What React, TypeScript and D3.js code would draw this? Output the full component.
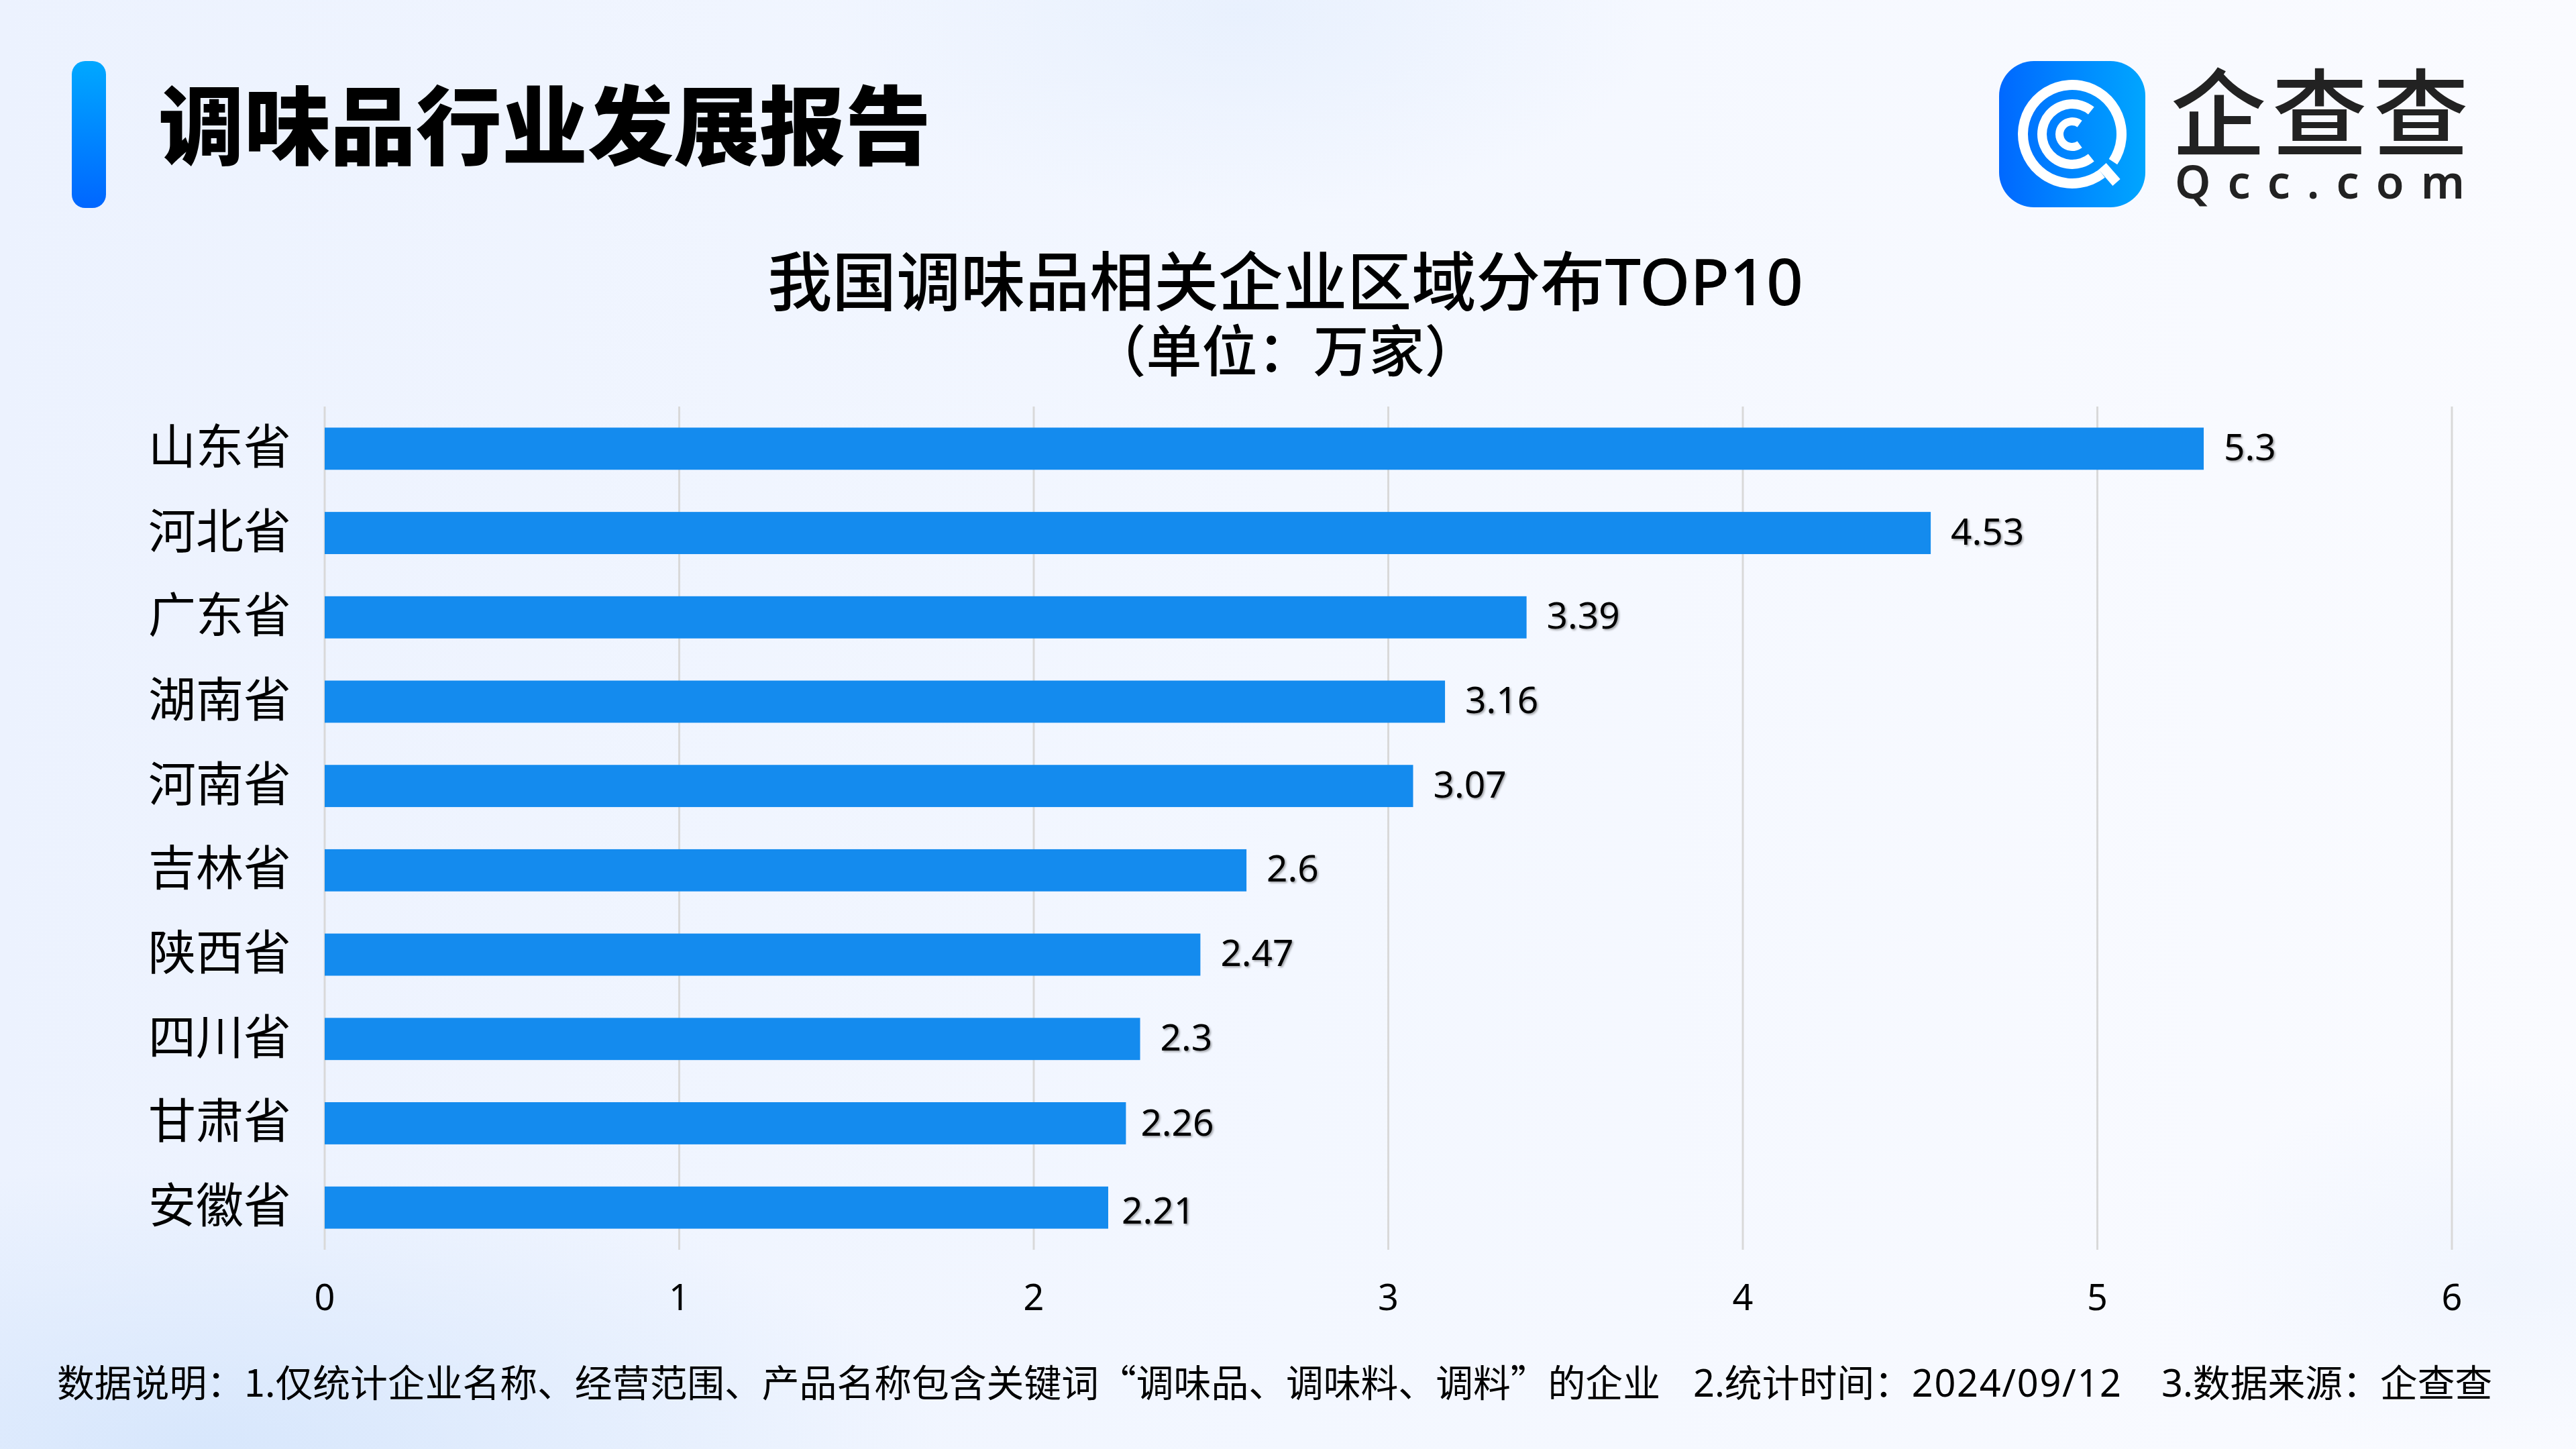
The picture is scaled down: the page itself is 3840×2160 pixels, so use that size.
import React from "react";
import * as d3 from "d3";

const W = 3840, H = 2160;
const categories = ["山东省","河北省","广东省","湖南省","河南省","吉林省","陕西省","四川省","甘肃省","安徽省"];
const values = [5.3,4.53,3.39,3.16,3.07,2.6,2.47,2.3,2.26,2.21];
const xTicks = [0,1,2,3,4,5,6];
const pageTitle = "调味品行业发展报告";
const chartTitle = "我国调味品相关企业区域分布TOP10";
const chartSub = "（单位：万家）";
const footNote = "数据说明：1.仅统计企业名称、经营范围、产品名称包含关键词“调味品、调味料、调料”的企业";
const footTimeLabel = "2.统计时间：";
const footTimeValue = "2024/09/12";
const footSource = "3.数据来源：企查查";
const logoCn = "企查查";
const logoEn = "Qcc.com";

// per-label layout nudges (separate from the data)
const labelDx = [0,0,0,0,0,0,0,0,-8,-10];
const labelDy = [-2,-2,-2,-2,-2,-2,-2,-2,0,5];

const FONT = '"Noto Sans","Noto Sans CJK SC",sans-serif';
const CJK = '"Noto Sans CJK SC",sans-serif';
const x = d3.scaleLinear().domain([0, 6]).range([484, 3655]);
const y = d3.scaleBand<string>().domain(categories).range([606, 1863]).paddingInner(0.5).paddingOuter(0.25);

const arc = d3.arc();
const deg = (d: number) => (d * Math.PI) / 180;
const rings = [
  { r: 73.5, w: 15, a0: 143, a1: 484 },
  { r: 45, w: 14, a0: 141, a1: 399 },
  { r: 19, w: 12, a0: 144, a1: 396 },
];

export default function App() {
  return (
    <svg width={W} height={H} viewBox={`0 0 ${W} ${H}`} style={{ position: "fixed", left: 0, top: 0 }} fontFamily={FONT}>
      <defs>
        <linearGradient id="bg" x1="0" y1="0" x2="1" y2="0">
          <stop offset="0" stopColor="#ecf2fe" />
          <stop offset="0.5" stopColor="#f3f7ff" />
          <stop offset="1" stopColor="#fafbff" />
        </linearGradient>
        <radialGradient id="blobBL" cx="0.5" cy="0.5" r="0.5">
          <stop offset="0" stopColor="#d6e6fc" stopOpacity="0.95" />
          <stop offset="1" stopColor="#d6e6fc" stopOpacity="0" />
        </radialGradient>
        <radialGradient id="blobT" cx="0.5" cy="0.5" r="0.5">
          <stop offset="0" stopColor="#e6effd" stopOpacity="0.8" />
          <stop offset="1" stopColor="#e6effd" stopOpacity="0" />
        </radialGradient>
        <linearGradient id="barAccent" x1="0" y1="0" x2="0" y2="1">
          <stop offset="0" stopColor="#00a8ff" />
          <stop offset="1" stopColor="#0066ff" />
        </linearGradient>
        <linearGradient id="logoBg" x1="0" y1="0" x2="1" y2="0">
          <stop offset="0" stopColor="#0068ff" />
          <stop offset="1" stopColor="#00a6ff" />
        </linearGradient>
        <filter id="soft" x="-20%" y="-20%" width="140%" height="140%">
          <feDropShadow dx="2" dy="2" stdDeviation="1.5" floodColor="#000" floodOpacity="0.35" />
        </filter>
      </defs>
      <rect width={W} height={H} fill="url(#bg)" />
      <ellipse cx={300} cy={2160} rx={1100} ry={420} fill="url(#blobBL)" />
      <ellipse cx={1850} cy={20} rx={620} ry={300} fill="url(#blobT)" />
      <ellipse cx={3750} cy={1900} rx={520} ry={300} fill="url(#blobT)" opacity={0.6} />

      <rect x={107} y={91} width={51} height={219} rx={20} fill="url(#barAccent)" />
      <text x={236} y={236} fontSize={128} fontWeight={900} fill="#000" fontFamily={CJK}>{pageTitle}</text>

      <rect x={2980} y={91} width={218} height={218} rx={52} fill="url(#logoBg)" />
      <g transform="translate(3089,200)">
        {rings.map((r, i) => (
          <path key={i} fill="#fff" d={arc({ innerRadius: r.r - r.w / 2, outerRadius: r.r + r.w / 2, startAngle: deg(r.a0), endAngle: deg(r.a1) }) || ""} />
        ))}
        <line x1={45} y1={48} x2={66} y2={72} stroke="#fff" strokeWidth={15} />
      </g>
      <text x={3236} y={222} fontSize={142} fontWeight={500} fill="#222" letterSpacing={9} fontFamily={CJK}>{logoCn}</text>
      <text x={3242} y={296} fontSize={68} fontWeight={600} fill="#222" letterSpacing={25}>{logoEn}</text>

      <text x={1916} y={455} textAnchor="middle" fontSize={96} fontWeight={500} fill="#000">{chartTitle}</text>
      <text x={1916} y={554} textAnchor="middle" fontSize={83} fontWeight={500} fill="#000" fontFamily={CJK}>{chartSub}</text>

      {xTicks.map(t => (
        <g key={t}>
          <line x1={x(t)} x2={x(t)} y1={606} y2={1863} stroke="#d9d9d9" strokeWidth={3} />
          <text x={x(t)} y={1953} textAnchor="middle" fontSize={54} fill="#000">{t}</text>
        </g>
      ))}

      {categories.map((c, i) => {
        const by = y(c)!;
        const cy = by + y.bandwidth() / 2;
        return (
          <g key={c}>
            <rect x={x(0)} y={by} width={x(values[i]) - x(0)} height={y.bandwidth()} fill="#148bee" />
            <text x={434} y={cy + 22} textAnchor="end" fontSize={71} fill="#000" fontFamily={CJK}>{c}</text>
            <text x={x(values[i]) + 30 + labelDx[i]} y={cy + 19 + labelDy[i]} fontSize={55} fill="#000" filter="url(#soft)">{String(values[i])}</text>
          </g>
        );
      })}

      <text x={85} y={2082} fontSize={55.8} fill="#000" fontFamily={CJK}>{footNote}</text>
      <text x={2524} y={2082} fontSize={55.8} fill="#000">
        {footTimeLabel}<tspan letterSpacing={1.7}>{footTimeValue}</tspan>
      </text>
      <text x={3222} y={2082} fontSize={55.8} fill="#000">{footSource}</text>
    </svg>
  );
}
